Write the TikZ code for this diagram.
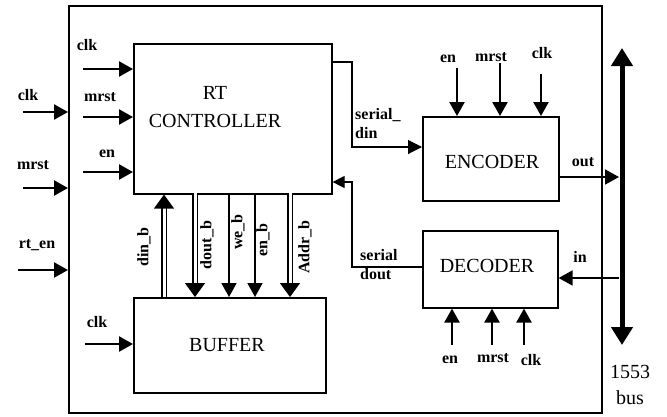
\documentclass[tikz,border=0pt]{standalone}
\usepackage{fontspec}
\setmainfont{Liberation Serif}
\usetikzlibrary{arrows.meta,positioning,calc}

\begin{document}
\begin{tikzpicture}[
  x=1pt,
  y=-1pt,
  blk/.style={
    draw,
    line width=1.6pt,
    anchor=north west,
    inner sep=0pt
  },
  title/.style={font=\fontsize{20}{28}\selectfont,align=center},
  lbl/.style={font=\fontsize{16}{19}\selectfont\bfseries,align=left,inner sep=0pt},
  sig/.style={-{Triangle[length=14pt,width=15pt]},line width=2.4pt},
  bus/.style={-{Triangle[length=14pt,width=20pt]},line width=1.3pt,double,double distance=3pt},
  ser/.style={line width=1.1pt}
]
\useasboundingbox (0,0) rectangle (667,416);

% blocks
\node[blk,minimum width=533pt,minimum height=407pt] (chip) at (68,5) {};
\node[blk,minimum width=198pt,minimum height=150pt] (rt) at (133,43) {};
\node[title] at (215,107) {RT\\CONTROLLER};
\node[blk,minimum width=192pt,minimum height=95pt] (buf) at (133,297) {};
\node[title] at (227,345) {BUFFER};
\node[blk,minimum width=136pt,minimum height=84pt] (enc) at (422,116) {};
\node[title] at (492,162) {ENCODER};
\node[blk,minimum width=135pt,minimum height=77pt] (dec) at (422,230) {};
\node[title] at (487,266) {DECODER};

% chip inputs
\coordinate (xclk) at (23,112);
\coordinate (xmrst) at (23,188);
\coordinate (xrten) at (18,270);
\draw[sig] (xclk) -- (xclk -| chip.west);
\draw[sig] (xmrst) -- (xmrst -| chip.west);
\draw[sig] (xrten) -- (xrten -| chip.west);
\node[lbl] at (28,95) {clk};
\node[lbl] at (33,165) {mrst};
\node[lbl] at (37,245) {rt\_en};

% controller inputs
\coordinate (rclk) at (83,69);
\coordinate (rmrst) at (83,117);
\coordinate (ren) at (83,172);
\draw[sig] (rclk) -- (rclk -| rt.west);
\draw[sig] (rmrst) -- (rmrst -| rt.west);
\draw[sig] (ren) -- (ren -| rt.west);
\node[lbl] at (87,45) {clk};
\node[lbl] at (100,97) {mrst};
\node[lbl] at (107,154) {en};

% buffer input
\coordinate (bclk) at (85,344);
\draw[sig] (bclk) -- (bclk -| buf.west);
\node[lbl] at (97,322) {clk};

% controller <-> buffer
\coordinate (din) at (164,297);
\coordinate (dout) at (195,193);
\coordinate (we) at (229,193);
\coordinate (enb) at (255,193);
\coordinate (addr) at (290,193);
\draw[bus] (din) -- (din |- rt.south);
\draw[bus] (dout) -- (dout |- buf.north);
\draw[sig,line width=1.8pt] (we) -- (we |- buf.north);
\draw[sig,line width=1.8pt] (enb) -- (enb |- buf.north);
\draw[bus] (addr) -- (addr |- buf.north);
\node[lbl,rotate=90] at (144,247) {din\_b};
\node[lbl,rotate=90] at (207,245) {dout\_b};
\node[lbl,rotate=90] at (238,232) {we\_b};
\node[lbl,rotate=90] at (263,240) {en\_b};
\node[lbl,rotate=90] at (305,247) {Addr\_b};

% encoder inputs
\coordinate (een) at (457,68);
\coordinate (emrst) at (500,63);
\coordinate (eclk) at (541,74);
\draw[sig] (een) -- (een |- enc.north);
\draw[sig] (emrst) -- (emrst |- enc.north);
\draw[sig] (eclk) -- (eclk |- enc.north);
\node[lbl] at (448,59) {en};
\node[lbl] at (491,57) {mrst};
\node[lbl] at (542,53) {clk};

% decoder inputs
\coordinate (den) at (452,345);
\coordinate (dmrst) at (492,345);
\coordinate (dclk) at (524,345);
\draw[sig] (den) -- (den |- dec.south);
\draw[sig] (dmrst) -- (dmrst |- dec.south);
\draw[sig] (dclk) -- (dclk |- dec.south);
\node[lbl] at (450,360) {en};
\node[lbl] at (493,358) {mrst};
\node[lbl] at (531,360) {clk};

% serial links
\coordinate (sdin) at (rt.east |- 0,62);
\coordinate (sdout) at (rt.east |- 0,182);
\draw[ser,-{Triangle[length=14pt,width=14pt]}]
  (sdin) -| (352,147) -- (enc.west |- 0,147);
\draw[ser,-{Triangle[length=12pt,width=12pt]}]
  (dec.west |- 0,267) -| (352,182) -- (sdout);
\node[lbl,anchor=north west] at (355,108) {serial\_\\din};
\node[lbl,anchor=north west] at (360,249) {serial\\dout};

% 1553 bus
\coordinate (btop) at (622,48);
\coordinate (bbot) at (622,345);
\draw[{Triangle[length=18pt,width=21pt]}-{Triangle[length=18pt,width=21pt]},line width=5pt]
  (btop) -- (bbot);
\draw[sig,line width=1.8pt] (enc.east |- 0,177) -- (619,177);
\draw[sig,line width=1.8pt] (619,278) -- (dec.east |- 0,278);
\node[lbl] at (583,162) {out};
\node[lbl] at (580,257) {in};
\node[title,font=\fontsize{20}{26}\selectfont] at (630,385) {1553\\bus};
\end{tikzpicture}
\end{document}
